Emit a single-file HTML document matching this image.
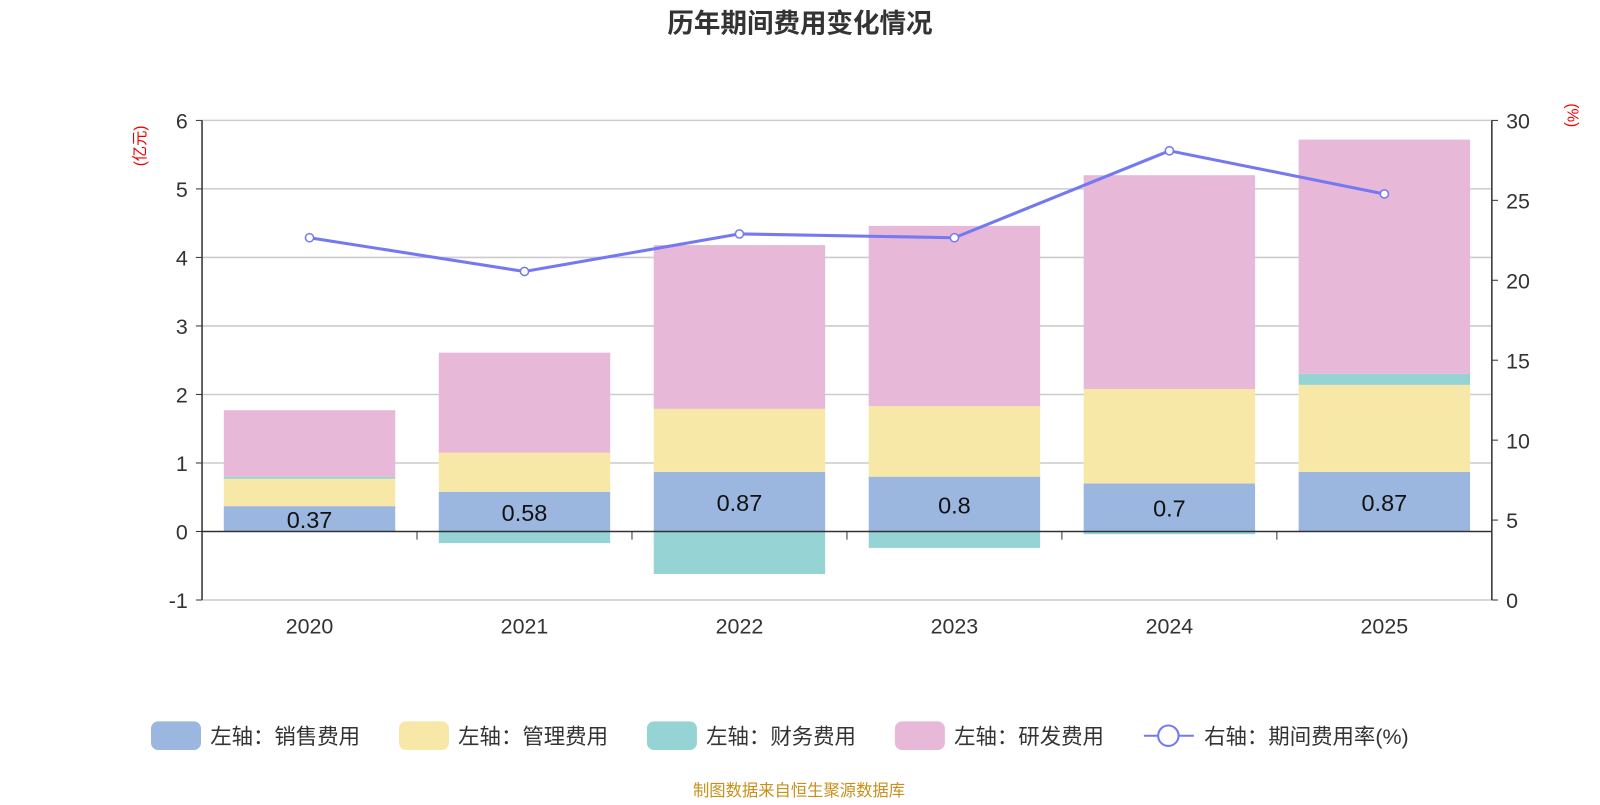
<!DOCTYPE html>
<html><head><meta charset="utf-8"><style>
body{margin:0;background:#fff;font-family:"Liberation Sans","Noto Sans CJK SC",sans-serif;}
</style></head><body>
<svg id="c" width="1600" height="800" viewBox="0 0 1568 784" xmlns="http://www.w3.org/2000/svg"></svg>
<script>
const years=["2020","2021","2022","2023","2024","2025"];
const sales=[0.37,0.58,0.87,0.8,0.7,0.87];
const mgmt=[0.40,0.57,0.92,1.03,1.38,1.27];
const finance=[0.03,-0.17,-0.62,-0.24,-0.04,0.16];
const rd=[0.97,1.46,2.39,2.63,3.12,3.42];
const rate=[22.66,20.55,22.9,22.66,28.1,25.4];
const leftTicks=[-1,0,1,2,3,4,5,6];
const rightTicks=[0,5,10,15,20,25,30];
const NS="http://www.w3.org/2000/svg";
const svg=document.getElementById('c');
const L=198,R=1462,T=118,B=588;
const yL=v=>T+(6-v)*(B-T)/7;
const yR=v=>B-v*(B-T)/30;
const band=(R-L)/years.length;
const xC=i=>L+band*(i+0.5);
const bw=168;
function mk(tag,attrs,txt){const e=document.createElementNS(NS,tag);for(const k in attrs)e.setAttribute(k,attrs[k]);if(txt!==undefined)e.textContent=txt;svg.appendChild(e);return e;}
let e;
e=mk('text',{x:784,y:32,'text-anchor':'middle','font-size':26,'font-weight':'bold',fill:'#333'},'历年期间费用变化情况');


leftTicks.forEach(v=>{
 if(v!==0){e=mk('line',{x1:L,x2:R,y1:yL(v),y2:yL(v),stroke:'#ccc','stroke-width':1.5});
 
 }
 e=mk('text',{x:L-14,y:yL(v)+8,'text-anchor':'end','font-size':21,fill:'#333'},v);
 
 
 mk('line',{x1:L-6,x2:L,y1:yL(v),y2:yL(v),stroke:'#333'});
});
rightTicks.forEach(v=>{
 e=mk('text',{x:R+14,y:yR(v)+8,'font-size':21,fill:'#333'},v);
 
 
 mk('line',{x1:R,x2:R+6,y1:yR(v),y2:yR(v),stroke:'#333'});
});
mk('line',{x1:L,x2:L,y1:T,y2:B,stroke:'#333','stroke-width':1.5});
mk('line',{x1:R,x2:R,y1:T,y2:B,stroke:'#333','stroke-width':1.5});
e=mk('text',{x:0,y:0,transform:`translate(142,143) rotate(-90)`,'text-anchor':'middle','font-size':15,fill:'#e00'},'(亿元)');


e=mk('text',{x:0,y:0,transform:`translate(1536,113) rotate(90)`,'text-anchor':'middle','font-size':15,fill:'#e00'},'(%)');


const cols={s:'#9bb7e0',m:'#f8e8a8',f:'#96d3d4',r:'#e7b8d8'};
years.forEach((y,i)=>{
 const x=xC(i)-bw/2;
 let pos=0,neg=0;
 const seg=(v,c,name)=>{
  let a,b;
  if(v>=0){a=pos;b=pos+v;pos=b;}else{a=neg;b=neg+v;neg=b;}
  const r=mk('rect',{x:x,y:yL(Math.max(a,b)),width:bw,height:Math.abs(yL(a)-yL(b)),fill:c});
  
  
 };
 seg(sales[i],cols.s,'bar-sales-'+y);
 seg(mgmt[i],cols.m,'bar-mgmt-'+y);
 seg(finance[i],cols.f,'bar-finance-'+y);
 seg(rd[i],cols.r,'bar-rd-'+y);
 e=mk('text',{x:xC(i),y:yL(sales[i]/2)+9,'text-anchor':'middle','font-size':23,fill:'#111'},sales[i]);
 
 
 e=mk('text',{x:xC(i),y:621,'text-anchor':'middle','font-size':21,fill:'#333'},y);
 
 
});
mk('line',{x1:L,x2:R,y1:yL(0),y2:yL(0),stroke:'#333','stroke-width':1.5});
for(let i=1;i<years.length;i++) mk('line',{x1:L+band*i,x2:L+band*i,y1:yL(0),y2:yL(0)+8,stroke:'#333'});
e=mk('polyline',{points:rate.map((v,i)=>xC(i)+','+yR(v)).join(' '),fill:'none',stroke:'#7479f1','stroke-width':3});


rate.forEach((v,i)=>{
 e=mk('circle',{cx:xC(i),cy:yR(v),r:4,fill:'#fff',stroke:'#7479f1','stroke-width':1.5});
 
 
});
const leg=[['左轴：销售费用',cols.s,148],['左轴：管理费用',cols.m,391],['左轴：财务费用',cols.f,634],['左轴：研发费用',cols.r,877]];
leg.forEach(([t,c,x])=>{
 e=mk('rect',{x:x,y:707,width:49,height:28,rx:7,fill:c});
 
 
 e=mk('text',{x:x+58,y:729,'font-size':21,fill:'#333'},t);
 
 
});
mk('line',{x1:1121,x2:1170,y1:721,y2:721,stroke:'#7479f1','stroke-width':2});
e=mk('circle',{cx:1145,cy:721,r:10,fill:'#fff',stroke:'#7479f1','stroke-width':2});


e=mk('text',{x:1180,y:729,'font-size':21,fill:'#333'},'右轴：期间费用率(%)');


e=mk('text',{x:783,y:780,'text-anchor':'middle','font-size':16,fill:'#c8901a'},'制图数据来自恒生聚源数据库');


</script>
</body></html>
